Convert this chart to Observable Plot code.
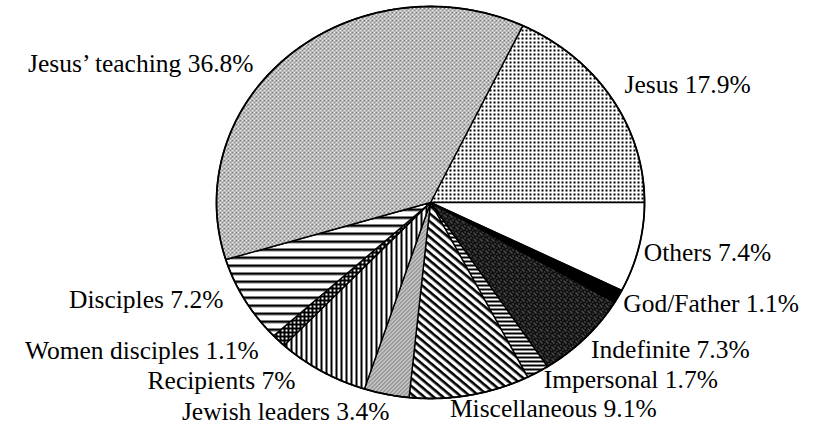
<!DOCTYPE html>
<html>
<head>
<meta charset="utf-8">
<script src="https://cdn.jsdelivr.net/npm/d3@7"></script>
<script src="https://cdn.jsdelivr.net/npm/@observablehq/plot@0.6"></script>
<style>
  html, body { margin: 0; padding: 0; background: #fff; }
  #chart svg { display: block; }
</style>
</head>
<body>
<div id="chart"></div>
<script>
// ---- data (clockwise from the Jesus slice) ----
const categories = ["Jesus", "Others", "God/Father", "Indefinite", "Impersonal", "Miscellaneous", "Jewish leaders", "Recipients", "Women disciples", "Disciples", "Jesus’ teaching"];
const shares = [17.9, 7.4, 1.1, 7.3, 1.7, 9.1, 3.4, 7, 1.1, 7.2, 36.8];
const patternIds = ["dots", "white", "black", "darkNoise", "hStripesDense", "diagStripes", "midGray", "vStripes", "blackDots", "hStripes", "lightGray"];
// label nudges (px) from the slice's mid-angle point on the rim
const labelNudge = [[13, -13.5], [5, 5], [5, 7], [6, 11.5], [6, 8], [-20, 14], [3, 18], [-26, 10], [-20, 10], [-21.5, -0.5], [-37.5, 9.5]];

// ---- layout ----
const W = 825, H = 429;
const cx = 430, cy = 202, rx = 214, ry = 196;
const fontSize = 25.5;
const startDeg = 90 - shares[0] * 3.6; // Jesus slice ends on the horizontal

let acc = 0;
const slices = categories.map((name, i) => {
  const a0 = startDeg + acc * 3.6;
  acc += shares[i];
  const a1 = startDeg + acc * 3.6;
  const mid = (a0 + a1) / 2 * Math.PI / 180;
  return {
    i, name, value: shares[i], a0, a1,
    fill: `url(#${patternIds[i]})`,
    label: `${name} ${shares[i]}%`,
    lx: Math.sin(mid) + labelNudge[i][0] / rx,
    ly: Math.cos(mid) - labelNudge[i][1] / ry
  };
});

const verts = slices.flatMap(s => {
  const pts = [{key: s.name, x: 0, y: 0, fill: s.fill}];
  const n = Math.max(2, Math.ceil((s.a1 - s.a0) / 0.5));
  for (let k = 0; k <= n; k++) {
    const a = (s.a0 + (s.a1 - s.a0) * k / n) * Math.PI / 180;
    pts.push({key: s.name, x: Math.sin(a), y: Math.cos(a), fill: s.fill});
  }
  return pts;
});
const rim = d3.range(0, 360, 0.5).map(d => ({x: Math.sin(d * Math.PI / 180), y: Math.cos(d * Math.PI / 180)}));

const chart = Plot.plot({
  width: W, height: H,
  marginLeft: cx - rx, marginRight: W - (cx + rx),
  marginTop: cy - ry, marginBottom: H - (cy + ry),
  x: {domain: [-1, 1], axis: null},
  y: {domain: [-1, 1], axis: null},
  color: {type: "identity"},
  style: {fontFamily: "'Liberation Serif', 'Times New Roman', serif", fontSize: fontSize + "px", background: "#fff", color: "#000", overflow: "visible"},
  marks: [
    Plot.line(verts, {x: "x", y: "y", z: "key", fill: "fill", stroke: "#000", strokeWidth: 1.4, strokeLinejoin: "round", curve: "linear-closed"}),
    Plot.line(rim, {x: "x", y: "y", stroke: "#000", strokeWidth: 1.8, fill: "none", curve: "linear-closed"}),
    Plot.text(slices.filter(d => d.i <= 5), {x: "lx", y: "ly", text: "label", textAnchor: "start", fontSize, fill: "#000"}),
    Plot.text(slices.filter(d => d.i > 5), {x: "lx", y: "ly", text: "label", textAnchor: "end", fontSize, fill: "#000"})
  ]
});

const ns = "http://www.w3.org/2000/svg";
const defs = document.createElementNS(ns, "defs");
defs.innerHTML = `
<pattern id="dots" patternUnits="userSpaceOnUse" width="4" height="4">
  <rect width="4" height="4" fill="#fff"/><rect x="1" y="1" width="2" height="2" fill="#000"/>
</pattern>
<pattern id="white" patternUnits="userSpaceOnUse" width="4" height="4"><rect width="4" height="4" fill="#fff"/></pattern>
<pattern id="black" patternUnits="userSpaceOnUse" width="4" height="4"><rect width="4" height="4" fill="#000"/></pattern>
<pattern id="darkNoise" patternUnits="userSpaceOnUse" width="6" height="6">
  <rect width="6" height="6" fill="#111"/>
  <rect x="1" y="0" width="1" height="1" fill="#888"/><rect x="4" y="1" width="1" height="1" fill="#777"/>
  <rect x="2" y="3" width="1" height="1" fill="#999"/><rect x="5" y="4" width="1" height="1" fill="#777"/>
  <rect x="0" y="5" width="1" height="1" fill="#888"/>
</pattern>
<pattern id="hStripesDense" patternUnits="userSpaceOnUse" width="4" height="4">
  <rect width="4" height="4" fill="#fff"/><rect width="4" height="2" fill="#000"/>
</pattern>
<pattern id="diagStripes" patternUnits="userSpaceOnUse" width="6" height="6" patternTransform="rotate(40)">
  <rect width="6" height="6" fill="#fff"/><rect width="6" height="2.6" fill="#000"/>
</pattern>
<pattern id="midGray" patternUnits="userSpaceOnUse" width="4" height="4">
  <rect width="4" height="4" fill="#e4e4e4"/>
  <rect x="0" y="0" width="1" height="1" fill="#555"/><rect x="2" y="0" width="1" height="1" fill="#555"/>
  <rect x="1" y="1" width="1" height="1" fill="#555"/><rect x="3" y="2" width="1" height="1" fill="#555"/>
  <rect x="0" y="2" width="1" height="1" fill="#555"/><rect x="2" y="3" width="1" height="1" fill="#555"/>
</pattern>
<pattern id="vStripes" patternUnits="userSpaceOnUse" width="5" height="5">
  <rect width="5" height="5" fill="#fff"/><rect width="2" height="5" fill="#000"/>
</pattern>
<pattern id="blackDots" patternUnits="userSpaceOnUse" width="4" height="4">
  <rect width="4" height="4" fill="#000"/><rect x="1" y="1" width="2" height="2" fill="#fff"/>
</pattern>
<pattern id="hStripes" patternUnits="userSpaceOnUse" width="8" height="8">
  <rect width="8" height="8" fill="#fff"/><rect width="8" height="2.5" fill="#000"/>
</pattern>
<pattern id="lightGray" patternUnits="userSpaceOnUse" width="4" height="4">
  <rect width="4" height="4" fill="#ececec"/>
  <rect x="0" y="0" width="1" height="1" fill="#333"/><rect x="2" y="1" width="1" height="1" fill="#333"/>
  <rect x="1" y="2" width="1" height="1" fill="#333"/><rect x="3" y="3" width="1" height="1" fill="#333"/>
  <rect x="3" y="0" width="1" height="1" fill="#999"/>
</pattern>`;
chart.insertBefore(defs, chart.firstChild);
document.getElementById("chart").appendChild(chart);
</script>
</body>
</html>
